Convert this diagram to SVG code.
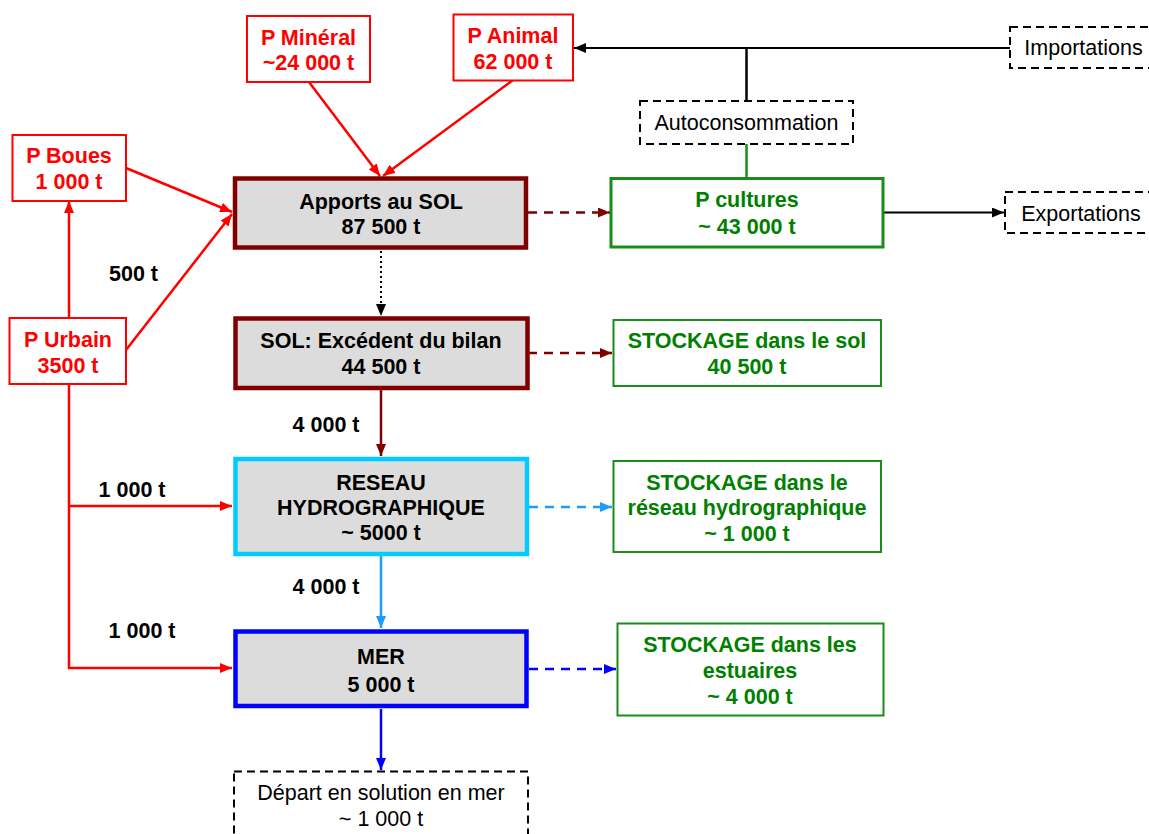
<svg xmlns="http://www.w3.org/2000/svg" width="1149" height="834" viewBox="0 0 1149 834">
<style>
  text { font-family: "Liberation Sans", Arial, sans-serif; font-size: 21.5px; text-anchor: middle; }
  .b { font-weight: bold; }
  .red { fill: #ff0000; }
  .grn { fill: #008000; }
  .blk { fill: #000000; }
  .rbox { fill: #ffffff; stroke: #ff0000; stroke-width: 2; }
  .gbox { fill: #ffffff; stroke: #1a8c1a; stroke-width: 2; }
  .dbox { fill: #ffffff; stroke: #000000; stroke-width: 2; stroke-dasharray: 8 5; }
  .main { fill: #dcdcdc; stroke-width: 4.5; }
  .c { fill: none; }
</style>
<defs>
  <marker id="aRed" markerUnits="userSpaceOnUse" markerWidth="13" markerHeight="11" refX="12" refY="5" orient="auto"><path d="M0,0 L12,5 L0,10 z" fill="#ff0000"/></marker>
  <marker id="aBlk" markerUnits="userSpaceOnUse" markerWidth="13" markerHeight="11" refX="12" refY="5" orient="auto"><path d="M0,0 L12,5 L0,10 z" fill="#000000"/></marker>
  <marker id="aDr" markerUnits="userSpaceOnUse" markerWidth="13" markerHeight="11" refX="12" refY="5" orient="auto"><path d="M0,0 L12,5 L0,10 z" fill="#800000"/></marker>
  <marker id="aLb" markerUnits="userSpaceOnUse" markerWidth="13" markerHeight="11" refX="12" refY="5" orient="auto"><path d="M0,0 L12,5 L0,10 z" fill="#1e9bff"/></marker>
  <marker id="aBl" markerUnits="userSpaceOnUse" markerWidth="13" markerHeight="11" refX="12" refY="5" orient="auto"><path d="M0,0 L12,5 L0,10 z" fill="#0000ff"/></marker>
</defs>
<rect width="1149" height="834" fill="#ffffff"/>

<g id="connectors" class="c">
  <line x1="309" y1="82" x2="380" y2="176" stroke="#ff0000" stroke-width="2.5" marker-end="url(#aRed)"/>
  <line x1="513" y1="80" x2="383" y2="176" stroke="#ff0000" stroke-width="2.5" marker-end="url(#aRed)"/>
  <line x1="126" y1="168" x2="232" y2="212" stroke="#ff0000" stroke-width="2.5" marker-end="url(#aRed)"/>
  <line x1="126" y1="350" x2="232" y2="214" stroke="#ff0000" stroke-width="2.5" marker-end="url(#aRed)"/>
  <line x1="69" y1="318" x2="69" y2="201" stroke="#ff0000" stroke-width="2.5" marker-end="url(#aRed)"/>
  <polyline points="69,384 69,668 232,668" fill="none" stroke="#ff0000" stroke-width="2.5" marker-end="url(#aRed)"/>
  <line x1="69" y1="506" x2="232" y2="506" stroke="#ff0000" stroke-width="2.5" marker-end="url(#aRed)"/>
  <line x1="381" y1="251" x2="381" y2="316" stroke="#000000" stroke-width="2" stroke-dasharray="2 3" marker-end="url(#aBlk)"/>
  <line x1="381" y1="390" x2="381" y2="456" stroke="#800000" stroke-width="2.5" marker-end="url(#aDr)"/>
  <line x1="381" y1="556" x2="381" y2="628" stroke="#1e9bff" stroke-width="2.5" marker-end="url(#aLb)"/>
  <line x1="381" y1="709" x2="381" y2="770" stroke="#0000ff" stroke-width="2.5" marker-end="url(#aBl)"/>
  <line x1="528" y1="212.5" x2="610" y2="212.5" stroke="#800000" stroke-width="2.5" stroke-dasharray="9 7" marker-end="url(#aDr)"/>
  <line x1="528" y1="353" x2="612" y2="353" stroke="#800000" stroke-width="2.5" stroke-dasharray="9 7" marker-end="url(#aDr)"/>
  <line x1="529" y1="507" x2="612" y2="507" stroke="#1e9bff" stroke-width="2.5" stroke-dasharray="9 7" marker-end="url(#aLb)"/>
  <line x1="529" y1="669" x2="616" y2="669" stroke="#0000ff" stroke-width="2.5" stroke-dasharray="9 7" marker-end="url(#aBl)"/>
  <line x1="1010" y1="48" x2="574" y2="48" stroke="#000000" stroke-width="2" marker-end="url(#aBlk)"/>
  <line x1="746.5" y1="48" x2="746.5" y2="101" stroke="#000000" stroke-width="2.5"/>
  <line x1="746.5" y1="144" x2="746.5" y2="178" stroke="#1a8c1a" stroke-width="2.5"/>
  <line x1="883" y1="212.5" x2="1004" y2="212.5" stroke="#000000" stroke-width="2" marker-end="url(#aBlk)"/>
</g>

<g id="p-mineral">
  <rect class="rbox" x="247" y="16" width="123" height="66"/>
  <text class="b red" x="308.5" y="45">P Minéral</text>
  <text class="b red" x="308.5" y="69.5">~24 000 t</text>
</g>
<g id="p-animal">
  <rect class="rbox" x="453.5" y="14.5" width="119.5" height="66"/>
  <text class="b red" x="513" y="43">P Animal</text>
  <text class="b red" x="513" y="68.5">62 000 t</text>
</g>
<g id="p-boues">
  <rect class="rbox" x="12.5" y="135" width="113.5" height="66"/>
  <text class="b red" x="69" y="163">P Boues</text>
  <text class="b red" x="69" y="188.5">1 000 t</text>
</g>
<g id="p-urbain">
  <rect class="rbox" x="9.5" y="318" width="116.5" height="66"/>
  <text class="b red" x="68" y="347">P Urbain</text>
  <text class="b red" x="68" y="373">3500 t</text>
</g>
<g id="importations">
  <rect class="dbox" x="1010" y="27" width="150" height="41"/>
  <text x="1083.5" y="54.5">Importations</text>
</g>
<g id="autoconsommation">
  <rect class="dbox" x="640" y="101" width="213" height="43"/>
  <text x="746.5" y="130">Autoconsommation</text>
</g>
<g id="p-cultures">
  <rect x="611" y="178.5" width="272" height="68.5" fill="#ffffff" stroke="#1a8c1a" stroke-width="3"/>
  <text class="b grn" x="747" y="207">P cultures</text>
  <text class="b grn" x="747" y="233.5">~ 43 000 t</text>
</g>
<g id="exportations">
  <rect class="dbox" x="1005" y="192" width="160" height="41"/>
  <text x="1081" y="221">Exportations</text>
</g>
<g id="apports">
  <rect class="main" x="235" y="178.5" width="291" height="69" stroke="#800000"/>
  <text class="b blk" x="381" y="208.5">Apports au SOL</text>
  <text class="b blk" x="381" y="233.5">87 500 t</text>
</g>
<g id="sol-excedent">
  <rect class="main" x="235.5" y="318.5" width="292" height="69.5" stroke="#800000"/>
  <text class="b blk" x="381" y="348">SOL: Excédent du bilan</text>
  <text class="b blk" x="381" y="373.5">44 500 t</text>
</g>
<g id="stockage-sol">
  <rect class="gbox" x="613.5" y="320" width="267.5" height="66"/>
  <text class="b grn" x="747" y="348">STOCKAGE dans le sol</text>
  <text class="b grn" x="747" y="373.5">40 500 t</text>
</g>
<g id="reseau">
  <rect class="main" x="235.5" y="459" width="291.5" height="95" stroke="#00ccff"/>
  <text class="b blk" x="381" y="489.5">RESEAU</text>
  <text class="b blk" x="381" y="514.5">HYDROGRAPHIQUE</text>
  <text class="b blk" x="381" y="539.5">~ 5000 t</text>
</g>
<g id="stockage-reseau">
  <rect class="gbox" x="613.5" y="461" width="267.5" height="91"/>
  <text class="b grn" x="747" y="489.5">STOCKAGE dans le</text>
  <text class="b grn" x="747" y="515">réseau hydrographique</text>
  <text class="b grn" x="747" y="541">~ 1 000 t</text>
</g>
<g id="mer">
  <rect class="main" x="235.5" y="631.5" width="291" height="74.5" stroke="#0000ff" stroke-width="5"/>
  <text class="b blk" x="381" y="663.5">MER</text>
  <text class="b blk" x="381" y="692">5 000 t</text>
</g>
<g id="stockage-estuaires">
  <rect class="gbox" x="617.5" y="623.5" width="266" height="92"/>
  <text class="b grn" x="750" y="652">STOCKAGE dans les</text>
  <text class="b grn" x="750" y="678">estuaires</text>
  <text class="b grn" x="750" y="703.5">~ 4 000 t</text>
</g>
<g id="depart">
  <rect class="dbox" x="234" y="771.5" width="294" height="75"/>
  <text x="381" y="800">Départ en solution en mer</text>
  <text x="381" y="826">~ 1 000 t</text>
</g>

<g id="labels">
  <text class="b blk" x="133.5" y="281">500 t</text>
  <text class="b blk" x="132" y="497">1 000 t</text>
  <text class="b blk" x="142" y="637.5">1 000 t</text>
  <text class="b blk" x="326" y="432">4 000 t</text>
  <text class="b blk" x="326" y="594">4 000 t</text>
</g>
</svg>
